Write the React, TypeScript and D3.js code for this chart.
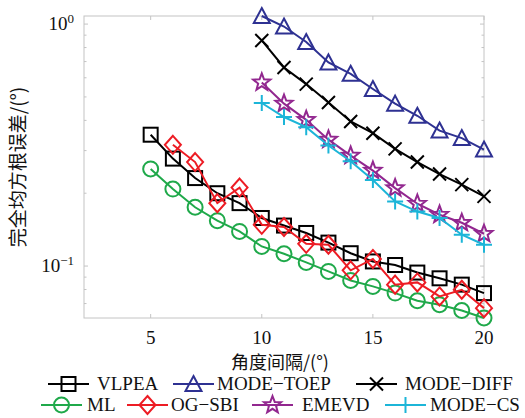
import React from 'react';
import * as d3 from 'd3';

const xValsA = [5, 6, 7, 8, 9, 10, 11, 12, 13, 14, 15, 16, 17, 18, 19, 20];
const xValsB = [6, 7, 8, 9, 10, 11, 12, 13, 14, 15, 16, 17, 18, 19, 20];
const xValsC = [10, 11, 12, 13, 14, 15, 16, 17, 18, 19, 20];

const vlpea = [0.349, 0.278, 0.231, 0.2, 0.182, 0.158, 0.147, 0.137, 0.125, 0.113, 0.1045, 0.101, 0.094, 0.089, 0.0838, 0.0773];
const ml = [0.252, 0.208, 0.175, 0.154, 0.139, 0.1205, 0.1124, 0.1035, 0.095, 0.0872, 0.0824, 0.0773, 0.0719, 0.0692, 0.0655, 0.061];
const ogsbi = [0.317, 0.269, 0.182, 0.211, 0.148, 0.145, 0.1236, 0.1225, 0.096, 0.107, 0.0838, 0.0856, 0.0749, 0.0798, 0.067];
const modeToep = [1.08, 0.977, 0.843, 0.694, 0.623, 0.539, 0.469, 0.418, 0.363, 0.338, 0.303];
const modeDiff = [0.856, 0.662, 0.565, 0.474, 0.396, 0.354, 0.305, 0.269, 0.24, 0.217, 0.194];
const emevd = [0.574, 0.469, 0.402, 0.333, 0.286, 0.248, 0.21, 0.181, 0.163, 0.151, 0.136];
const modeCs = [0.472, 0.413, 0.375, 0.315, 0.271, 0.227, 0.185, 0.168, 0.158, 0.1347, 0.1225];

const xTicks = [5, 10, 15, 20];
const yMajor = [0.1, 1];
const yMinor = [0.07, 0.08, 0.09, 0.2, 0.3, 0.4, 0.5, 0.6, 0.7, 0.8, 0.9];

type Shape = 'square' | 'circle' | 'triangle' | 'diamond' | 'star' | 'x' | 'plus';

const series: { name: string; xs: number[]; ys: number[]; color: string; shape: Shape }[] = [
  { name: 'VLPEA', xs: xValsA, ys: vlpea, color: '#000000', shape: 'square' },
  { name: 'MODE-TOEP', xs: xValsC, ys: modeToep, color: '#2e3192', shape: 'triangle' },
  { name: 'MODE-DIFF', xs: xValsC, ys: modeDiff, color: '#000000', shape: 'x' },
  { name: 'ML', xs: xValsA, ys: ml, color: '#1fa94a', shape: 'circle' },
  { name: 'OG-SBI', xs: xValsB, ys: ogsbi, color: '#ed1c24', shape: 'diamond' },
  { name: 'EMEVD', xs: xValsC, ys: emevd, color: '#92278f', shape: 'star' },
  { name: 'MODE-CS', xs: xValsC, ys: modeCs, color: '#1cb5d8', shape: 'plus' },
];

const starPath = (() => {
  const pts: string[] = [];
  for (let i = 0; i < 10; i++) {
    const r = i % 2 === 0 ? 9 : 3.8;
    const a = -Math.PI / 2 + (i * Math.PI) / 5;
    pts.push(`${(r * Math.cos(a)).toFixed(2)},${(r * Math.sin(a)).toFixed(2)}`);
  }
  return 'M' + pts.join('L') + 'Z';
})();

const Marker = ({ shape, color }: { shape: Shape; color: string }) => {
  const p = { fill: 'none', stroke: color, strokeWidth: 2 };
  switch (shape) {
    case 'square':
      return <rect x={-7} y={-7} width={14} height={14} {...p} />;
    case 'circle':
      return <circle r={7.5} {...p} />;
    case 'triangle':
      return <path d="M0,-8L8,7L-8,7Z" {...p} />;
    case 'diamond':
      return <path d="M0,-9L8,0L0,9L-8,0Z" {...p} />;
    case 'star':
      return <path d={starPath} {...p} />;
    case 'x':
      return <path d="M-6.5,-6.5L6.5,6.5M-6.5,6.5L6.5,-6.5" {...p} />;
    case 'plus':
      return <path d="M-8,0L8,0M0,-8L0,8" {...p} />;
  }
};

const App = () => {
  const width = 525;
  const height = 418;
  const margin = { top: 16, right: 41, bottom: 100, left: 84 };
  const x = d3.scaleLinear().domain([2, 20]).range([margin.left, width - margin.right]);
  const y = d3.scaleLog().domain([0.061, 1.08]).range([height - margin.bottom, margin.top]);
  const line = d3.line<[number, number]>().x(d => x(d[0])).y(d => y(d[1]));
  const x0 = x.range()[0], x1 = x.range()[1];
  const y0 = y.range()[0], y1 = y.range()[1];
  const axisColor = '#c4c4c4';
  const serif = { fontFamily: "'Liberation Serif', 'Times New Roman', 'DejaVu Serif', serif" };
  const cjk = { fontFamily: "'Noto Sans CJK SC', 'Liberation Serif', serif" };

  const row1 = [
    { s: series[0], lx: 48, tx: 97 },
    { s: series[1], lx: 173, tx: 217 },
    { s: series[2], lx: 356, tx: 405 },
  ];
  const row2 = [
    { s: series[3], lx: 41, tx: 87 },
    { s: series[4], lx: 127, tx: 171 },
    { s: series[5], lx: 252, tx: 302 },
    { s: series[6], lx: 385, tx: 430 },
  ];

  return (
    <svg width={width} height={height} style={{ position: 'absolute', left: 0, top: 0 }}>
      <rect x={0} y={0} width={width} height={height} fill="#fff" />
      {/* axes box */}
      <rect x={x0} y={y1} width={x1 - x0} height={y0 - y1} fill="none" stroke={axisColor} strokeWidth={1} />
      {xTicks.map(t => (
        <g key={'xt' + t}>
          <line x1={x(t)} x2={x(t)} y1={y0} y2={y0 - 4} stroke={axisColor} />
          <line x1={x(t)} x2={x(t)} y1={y1} y2={y1 + 4} stroke={axisColor} />
          <text x={x(t)} y={y0 + 26} textAnchor="middle" fontSize={19} fill="#111" style={serif}>{t}</text>
        </g>
      ))}
      {yMajor.map(t => (
        <g key={'ym' + t}>
          <line x1={x0} x2={x0 + 4} y1={y(t)} y2={y(t)} stroke={axisColor} />
          <line x1={x1} x2={x1 - 4} y1={y(t)} y2={y(t)} stroke={axisColor} />
          <text x={x0 - 10} y={y(t) + 6} textAnchor="end" fontSize={19} fill="#111" style={serif}>
            10<tspan dy={-7} fontSize={13}>{t === 1 ? '0' : '\u22121'}</tspan>
          </text>
        </g>
      ))}
      {yMinor.map(t => (
        <g key={'yn' + t}>
          <line x1={x0} x2={x0 + 2.5} y1={y(t)} y2={y(t)} stroke={axisColor} />
          <line x1={x1} x2={x1 - 2.5} y1={y(t)} y2={y(t)} stroke={axisColor} />
        </g>
      ))}
      {/* series */}
      {series.map(s => {
        const pts = s.xs.map((v, i) => [v, s.ys[i]] as [number, number]);
        return (
          <g key={s.name}>
            <path d={line(pts) || ''} fill="none" stroke={s.color} strokeWidth={2} />
            {pts.map((p, i) => (
              <g key={i} transform={`translate(${x(p[0])},${y(p[1])})`}>
                <Marker shape={s.shape} color={s.color} />
              </g>
            ))}
          </g>
        );
      })}
      {/* axis labels */}
      <text x={280} y={369} textAnchor="middle" fontSize={18} fill="#111" style={cjk}>角度间隔/(°)</text>
      <text transform={`translate(25,${(y0 + y1) / 2}) rotate(-90)`} textAnchor="middle" fontSize={19} fill="#111" style={cjk}>
        完全均方根误差/(°)
      </text>
      {/* legend */}
      {[...row1.map(r => ({ ...r, cy: 384 })), ...row2.map(r => ({ ...r, cy: 405 }))].map(r => (
        <g key={'lg' + r.s.name}>
          <line x1={r.lx} x2={r.lx + 41} y1={r.cy} y2={r.cy} stroke={r.s.color} strokeWidth={2} />
          <g transform={`translate(${r.lx + 20.5},${r.cy})`}>
            <Marker shape={r.s.shape} color={r.s.color} />
          </g>
          <text x={r.tx} y={r.cy + 6} fontSize={19} fill="#111" style={serif}>{r.s.name.replace('-', '\u2212')}</text>
        </g>
      ))}
    </svg>
  );
};

export default App;
